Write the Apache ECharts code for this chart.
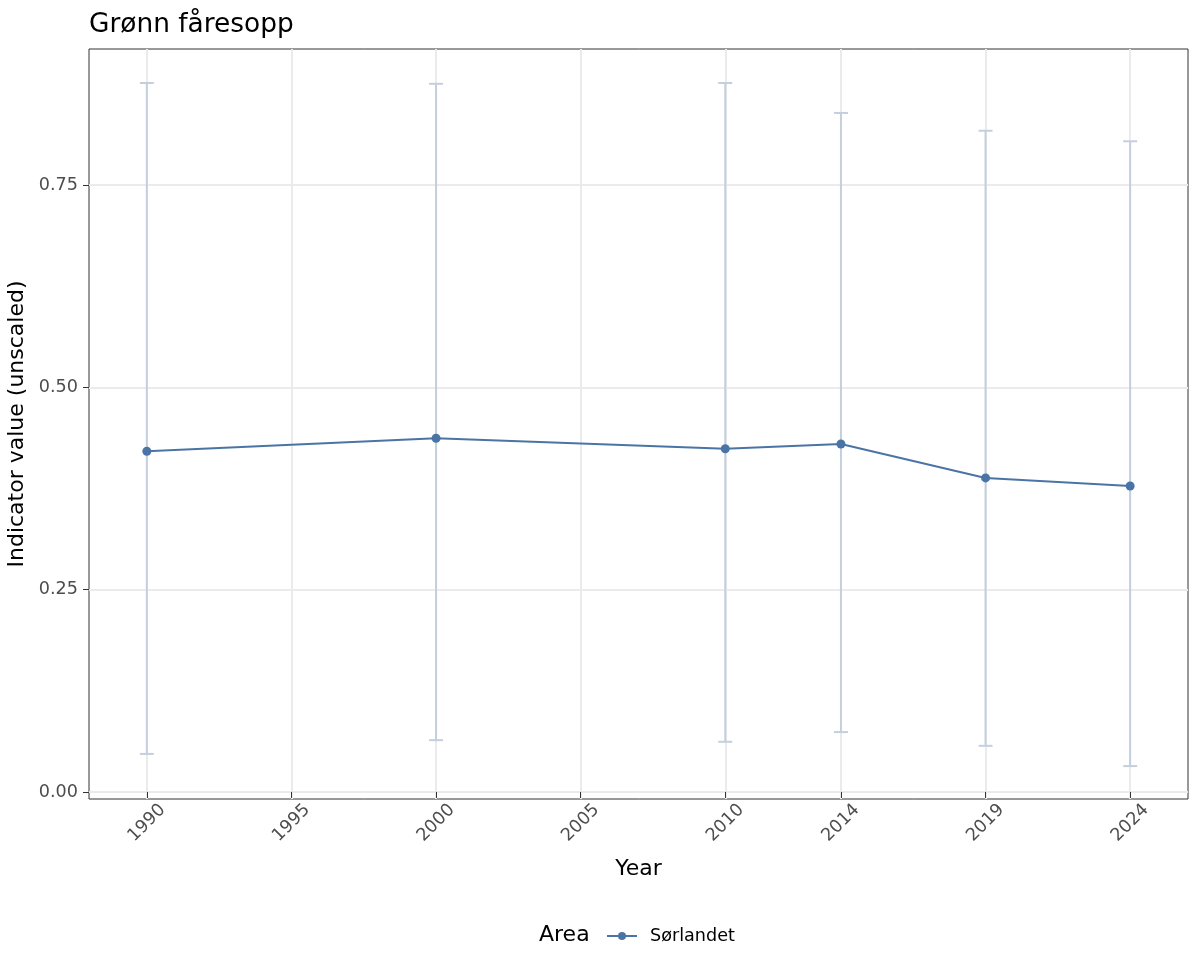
<!DOCTYPE html>
<html>
<head>
<meta charset="utf-8">
<script src="https://cdn.jsdelivr.net/npm/echarts@6/dist/echarts.min.js"></script>
<style>
  html, body { margin: 0; padding: 0; background: #fff; }
  #chart { width: 1200px; height: 975px; }
</style>
</head>
<body>
<div id="chart"></div>
<script>
// data
var years = [1990, 2000, 2010, 2014, 2019, 2024];
var values = [0.421, 0.437, 0.424, 0.430, 0.388, 0.378];
var lower = [0.047, 0.064, 0.062, 0.074, 0.057, 0.032];
var upper = [0.876, 0.875, 0.876, 0.839, 0.817, 0.804];
var xTicks = [1990, 1995, 2000, 2005, 2010, 2014, 2019, 2024];
var yTicks = [0, 0.25, 0.5, 0.75];

var font = 'DejaVu Sans';
var lineColor = '#4A74A6';
var barColor = '#C4CFDE';

var errData = years.map(function (y, i) { return [y, lower[i], upper[i]]; });
var lineData = years.map(function (y, i) { return [y, values[i]]; });

var myChart = echarts.init(document.getElementById('chart'));
myChart.setOption({
  animation: false,
  backgroundColor: '#fff',
  title: {
    text: 'Grønn fåresopp',
    left: 84, top: 7,
    textStyle: { fontFamily: font, fontSize: 26.4, fontWeight: 'normal', color: '#000' }
  },
  grid: {
    left: 89, right: 12, top: 49, bottom: 176,
    outerBoundsMode: 'none', containLabel: false,
    show: true, borderColor: '#333', borderWidth: 1, backgroundColor: 'transparent'
  },
  legend: {
    data: ['Sørlandet'],
    left: 601, top: 922,
    itemWidth: 30, itemHeight: 10, itemGap: 10,
    textStyle: { fontFamily: font, fontSize: 17.6, color: '#000', padding: [0, 0, 0, 8] }
  },
  graphic: [{
    type: 'text', x: 539, y: 935,
    style: { text: 'Area', font: '22px "DejaVu Sans"', fill: '#000', verticalAlign: 'middle' }
  }],
  xAxis: {
    type: 'value', min: 1988, max: 2026,
    name: 'Year', nameLocation: 'middle', nameGap: 59,
    nameTextStyle: { fontFamily: font, fontSize: 22, color: '#000' },
    axisLine: { show: false },
    axisTick: { show: true, length: 6, customValues: xTicks, lineStyle: { color: '#333' } },
    axisLabel: {
      customValues: xTicks, rotate: 45, align: 'center', verticalAlign: 'middle', margin: 24,
      fontFamily: font, fontSize: 17.6, color: '#4D4D4D',
      formatter: function (v) { return String(v); }
    },
    splitLine: { show: true, lineStyle: { color: '#EBEBEB', width: 2 } }
  },
  yAxis: {
    type: 'value', min: -0.0087, max: 0.918,
    name: 'Indicator value (unscaled)', nameLocation: 'middle', nameGap: 58,
    nameTextStyle: { fontFamily: font, fontSize: 22, color: '#000' },
    axisLine: { show: false },
    axisTick: { show: true, length: 6, customValues: yTicks, lineStyle: { color: '#333' } },
    axisLabel: {
      customValues: yTicks, margin: 11,
      fontFamily: font, fontSize: 17.6, color: '#4D4D4D',
      formatter: function (v) { return v.toFixed(2); }
    },
    splitLine: { show: true, lineStyle: { color: '#EBEBEB', width: 2 } }
  },
  series: [
    {
      type: 'custom',
      name: 'err',
      data: errData,
      z: 1,
      renderItem: function (params, api) {
        var x = api.value(0);
        var lo = api.coord([x, api.value(1)]);
        var hi = api.coord([x, api.value(2)]);
        var half = 7;
        var style = { stroke: barColor, lineWidth: 2 };
        return {
          type: 'group',
          children: [
            { type: 'line', shape: { x1: lo[0], y1: lo[1], x2: hi[0], y2: hi[1] }, style: style },
            { type: 'line', shape: { x1: hi[0] - half, y1: hi[1], x2: hi[0] + half, y2: hi[1] }, style: style },
            { type: 'line', shape: { x1: lo[0] - half, y1: lo[1], x2: lo[0] + half, y2: lo[1] }, style: style }
          ]
        };
      }
    },
    {
      type: 'line',
      name: 'Sørlandet',
      data: lineData,
      z: 3,
      symbol: 'circle',
      symbolSize: 9,
      color: lineColor,
      lineStyle: { color: lineColor, width: 2 },
      itemStyle: { color: lineColor }
    }
  ]
});
</script>
</body>
</html>
